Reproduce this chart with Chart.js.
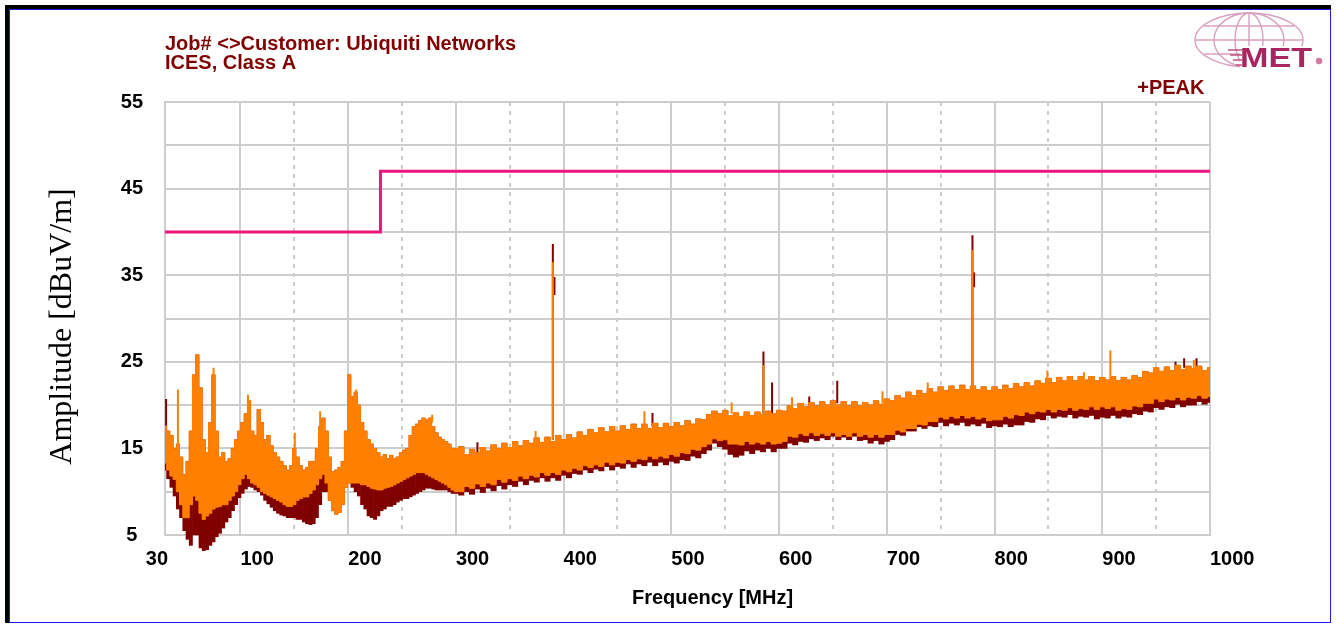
<!DOCTYPE html>
<html>
<head>
<meta charset="utf-8">
<script src="https://cdn.jsdelivr.net/npm/chart.js@4.4.1/dist/chart.umd.min.js"></script>
<style>
  html, body { margin: 0; padding: 0; background: #fff; }
  #wrap { position: relative; width: 1336px; height: 627px; overflow: hidden; }
  #outer { position: absolute; left: 5px; top: 5px; width: 1326px; height: 618px; box-sizing: border-box;
           border-top: 4px solid #000; border-left: 4px solid #000; }
  #inner { position: absolute; left: 9px; top: 9px; width: 1322px; height: 614px; box-sizing: border-box;
           border: 1px solid #1c1cf0; }
  #chartBox { position: absolute; left: 0; top: 0; width: 1336px; height: 627px; }
  #logo { position: absolute; left: 1190px; top: 10px; }
</style>
</head>
<body>
<div id="wrap">
  <div id="outer"></div>
  <div id="inner"></div>
  <div id="chartBox"><canvas id="emiChart"></canvas></div>
  <svg id="logo" width="140" height="64" viewBox="0 0 140 64">
    <g fill="none" stroke="#d9a0bf" stroke-width="1.4">
      <ellipse cx="59" cy="30" rx="54" ry="27"/>
      <ellipse cx="59" cy="30" rx="35" ry="27"/>
      <ellipse cx="59" cy="30" rx="14" ry="27"/>
      <line x1="59" y1="3" x2="59" y2="57"/>
      <line x1="14" y1="16" x2="104" y2="16"/>
      <line x1="5" y1="30" x2="113" y2="30"/>
      <line x1="14" y1="44" x2="104" y2="44"/>
    </g>
    <rect x="50" y="36" width="76" height="22" fill="#fff"/>
    <g stroke="#c0507f" stroke-width="1.5">
      <line x1="38" y1="40" x2="52" y2="40"/>
      <line x1="40" y1="45" x2="52" y2="45"/>
      <line x1="43" y1="50" x2="52" y2="50"/>
      <line x1="46" y1="55" x2="52" y2="55"/>
    </g>
    <text x="50" y="57" font-family="Liberation Sans" font-weight="bold" font-size="28" fill="#a8255f"
          textLength="72" lengthAdjust="spacingAndGlyphs">MET</text>
    <circle cx="129" cy="51" r="3.2" fill="#d27aa3"/>
  </svg>
</div>
<script>
// sampling grid (MHz)
const freqs = [30,33,36,39,42,45,48,51,54,57,60,63,66,69,72,75,78,81,84,87,90,93,96,99,
  102,105,108,111,114,117,120,123,126,129,132,135,138,141,144,147,150,153,156,159,162,165,168,171,174,177,
  180,183,186,189,192,195,198,201,204,207,210,213,216,219,222,225,228,231,234,237,240,243,246,249,252,255,
  258,261,264,267,270,273,276,279,282,285,288,291,294,297,300,
  305,310,315,320,325,330,335,340,345,350,355,360,365,370,375,380,385,390,395,400,
  405,410,415,420,425,430,435,440,445,450,455,460,465,470,475,480,485,490,495,500,
  505,510,515,520,525,530,535,540,545,550,555,560,565,570,575,580,585,590,595,600,
  605,610,615,620,625,630,635,640,645,650,655,660,665,670,675,680,685,690,695,700,
  705,710,715,720,725,730,735,740,745,750,755,760,765,770,775,780,785,790,795,800,
  805,810,815,820,825,830,835,840,845,850,855,860,865,870,875,880,885,890,895,900,
  905,910,915,920,925,930,935,940,945,950,955,960,965,970,975,980,985,990,995,1000];

// orange trace, upper and lower edge of the noise band (dBuV/m)
const orangeHi = [17.6,17.0,16.5,15.0,15.5,14.0,12.0,13.5,17.0,23.5,25.8,22.0,16.0,14.5,18.0,23.5,17.0,14.0,14.5,13.5,13.8,15.0,16.0,17.0,
  18.0,19.0,20.5,17.0,16.5,19.5,18.0,16.0,16.5,15.3,14.5,14.0,13.5,13.0,12.5,13.0,15.0,14.0,13.0,12.5,12.8,13.5,13.5,15.0,17.5,18.5,
  17.0,14.0,12.3,12.5,12.8,13.5,17.0,23.5,21.0,21.5,20.0,18.0,17.0,16.0,15.5,15.0,14.5,14.0,14.3,13.8,14.2,13.8,14.0,14.5,14.8,15.0,
  16.5,17.5,17.8,18.2,18.5,18.3,18.5,17.5,16.8,16.3,16.0,15.8,15.5,15.0,15.0,
  15.2,14.3,14.9,14.5,15.1,14.7,15.4,15.0,15.6,15.1,15.8,15.3,15.9,15.6,16.2,15.7,16.3,15.8,16.5,16.0,
  16.6,16.2,16.9,16.5,17.2,16.8,17.4,16.9,17.5,17.0,17.6,17.2,17.8,17.3,17.8,17.3,17.9,17.4,17.9,17.5,
  18.0,17.6,18.2,17.8,18.4,18.3,18.9,19.3,19.0,19.4,18.8,19.1,18.7,19.2,18.8,19.2,18.9,19.3,19.0,19.4,
  19.3,19.9,19.6,20.2,19.8,20.3,19.9,20.4,20.0,20.5,20.0,20.4,19.9,20.4,19.9,20.3,20.0,20.5,20.1,20.7,
  20.5,21.1,20.8,21.5,21.1,21.7,21.3,21.9,21.5,22.1,21.7,22.2,21.8,22.3,21.8,22.2,21.8,22.1,21.7,22.1,
  21.8,22.3,21.9,22.5,22.1,22.6,22.2,22.8,22.5,23.1,22.6,23.2,22.8,23.3,22.8,23.3,22.9,23.3,22.8,23.2,
  22.9,23.3,22.8,23.2,22.9,23.4,23.2,23.9,23.7,24.3,23.9,24.4,24.0,24.6,24.1,24.5,24.2,24.5,24.0,24.3];
const orangeLo = [13.3,12.5,11.8,11.4,10.0,8.5,7.0,7.0,8.5,9.5,9.0,7.5,6.8,7.2,7.5,8.0,8.2,8.3,8.5,8.5,9.0,9.5,10.0,10.8,
  11.5,12.0,11.5,11.0,10.8,10.5,10.0,9.8,9.6,9.4,9.2,9.0,8.8,8.5,8.3,8.3,8.5,9.0,9.2,9.4,9.4,9.8,10.2,10.8,11.5,12.0,
  11.0,9.0,7.8,7.4,7.6,8.5,10.5,11.0,11.0,11.0,11.0,10.8,10.8,10.6,10.4,10.3,10.2,10.2,10.4,10.5,10.6,10.8,11.0,11.2,11.4,11.6,
  11.8,12.0,12.2,12.2,12.2,12.0,11.8,11.6,11.4,11.2,11.0,10.8,10.5,10.2,10.0,
  10.0,10.6,10.4,10.9,10.6,11.0,10.8,11.4,11.1,11.5,11.3,11.8,11.5,11.9,11.7,12.2,11.9,12.2,12.0,12.5,
  12.3,12.7,12.5,13.0,12.8,13.1,12.9,13.4,13.1,13.4,13.3,13.7,13.5,13.8,13.7,14.1,13.8,14.1,13.9,14.3,
  14.1,14.5,14.4,14.9,14.8,15.2,15.5,16.1,15.9,16.0,15.5,15.5,15.4,15.8,15.5,15.7,15.5,15.8,15.5,15.6,
  15.8,16.4,16.3,16.7,16.5,16.8,16.5,16.7,16.5,16.8,16.4,16.6,16.4,16.8,16.4,16.6,16.3,16.6,16.3,16.6,
  16.6,17.1,16.9,17.3,17.3,17.8,17.7,18.1,18.1,18.6,18.4,18.7,18.5,18.8,18.5,18.7,18.4,18.6,18.2,18.3,
  18.3,18.7,18.5,18.9,18.8,19.2,19.0,19.3,19.2,19.5,19.2,19.5,19.4,19.7,19.4,19.6,19.5,19.8,19.5,19.8,
  19.6,19.8,19.4,19.6,19.5,19.9,19.8,20.2,20.2,20.7,20.4,20.7,20.6,20.9,20.6,20.9,20.8,21.1,20.8,21.0];

// dark red trace, lower edge (its upper part sits under the orange band)
const redLo = [12.5,11.5,10.5,9.5,8.0,7.0,5.5,4.5,3.8,5.0,5.0,3.5,3.2,3.3,3.8,4.2,4.8,5.2,5.8,6.5,7.0,7.8,8.5,9.3,
  9.8,10.3,10.6,10.5,10.2,10.0,9.6,9.0,8.6,8.2,7.8,7.5,7.3,7.2,7.0,7.0,7.0,6.8,6.8,6.5,6.3,6.2,6.3,7.0,8.5,10.0,
  10.0,9.0,7.8,7.4,7.6,8.5,10.5,11.0,10.5,10.0,9.5,8.5,8.0,7.2,7.0,6.8,7.2,7.8,8.0,8.3,8.3,8.5,8.8,9.0,9.2,9.2,
  9.4,9.6,9.8,10.0,10.2,10.4,10.4,10.3,10.2,10.2,10.2,10.2,10.0,9.8,9.8,
  9.6,10.0,9.7,10.3,9.9,10.4,10.1,10.7,10.3,10.8,10.6,11.2,10.8,11.3,11.1,11.6,11.2,11.6,11.3,11.9,
  11.6,12.1,12.0,12.5,12.2,12.6,12.4,12.9,12.5,12.9,12.7,13.2,12.8,13.2,13.0,13.4,13.0,13.4,13.1,13.5,
  13.3,13.7,13.6,14.1,13.9,14.4,14.8,15.6,15.2,14.9,14.3,14.0,14.2,14.7,14.4,14.8,14.6,15.0,14.6,15.0,
  15.0,15.6,15.4,15.8,15.7,16.1,15.9,16.2,16.0,16.4,16.0,16.3,16.0,16.4,15.9,16.0,15.6,15.9,15.5,15.8,
  16.0,16.6,16.5,17.0,17.0,17.5,17.3,17.6,17.5,18.0,17.6,17.9,17.7,18.0,17.6,17.8,17.6,17.9,17.4,17.6,
  17.5,17.8,17.5,17.7,17.7,18.1,18.0,18.4,18.3,18.8,18.5,18.7,18.6,18.9,18.5,18.7,18.6,18.8,18.4,18.6,
  18.5,18.8,18.5,18.7,18.6,19.0,18.9,19.3,19.2,19.7,19.5,19.8,19.7,20.1,19.8,20.0,20.0,20.4,20.1,20.3];

// narrow peaks: frequency, foot and top
const orangeSpikeFreqs = [42,75,107,150.5,174,207.5,278,374,390,475,556,585.5,612,696,738,779.5,849,883,907.5,985];
const orangeSpikeBase  = [14,17,18,13,16,19,18,15.8,16,17.5,19,19,19.5,20.2,21.5,22,22.8,23,23,24.2];
const orangeSpikeTop   = [21.8,24.3,21.2,16.8,19.3,21.8,18.9,17,36.5,19.3,20.3,24.6,20.9,21.6,22.6,37.9,24,23.8,26.3,25.2];
const redSpikeFreqs = [31,320,390,391.5,482.5,585.5,593.5,628,654,779.5,781,968,976,987.5];
const redSpikeBase  = [15,14.5,16,32.7,17.5,19,19,19.5,20.2,22,33.6,24,24.3,24.2];
const redSpikeTop   = [20.7,15.7,38.6,34.8,19.1,26.2,22.6,21,22.8,39.6,35.3,25,25.4,25.4];

// limit line
const limitFreqs = [30, 230, 230, 1000];
const limitLevels = [40, 40, 47, 47];

const ORANGE = "#ff8000";
const DARKRED = "#800000";
const GRID = "#cdcdcd";
const FONT = "Liberation Sans";

const pts = (xs, ys) => xs.map((x, i) => ({ x: x, y: ys[i] }));
const spikePts = (fs, lo, hi) => fs.flatMap((f, i) => [{ x: f, y: lo[i] }, { x: f, y: hi[i] }, { x: f, y: null }]);
// dark red band runs from its own floor up under the orange band
const redBand = freqs.map((f, i) => ({ x: f, y: [redLo[i], orangeHi[i]] }));

// first x label sits left of the frame corner
const firstLabel = {
    id: "firstLabel",
    afterDraw(chart) {
        const s = chart.scales.x;
        const ctx = chart.ctx;
        ctx.save();
        ctx.font = "bold 20px '" + FONT + "'";
        ctx.fillStyle = "#000";
        ctx.textAlign = "right";
        ctx.textBaseline = "middle";
        ctx.fillText("30", s.getPixelForValue(30) + 3, s.top + 24);
        ctx.restore();
    }
};

Chart.defaults.font.family = FONT;

const ctx = document.getElementById("emiChart").getContext("2d");
new Chart(ctx, {
    type: "line",
    data: {
        datasets: [
            { data: pts(limitFreqs, limitLevels), borderColor: "#f0147f", borderWidth: 3, pointRadius: 0, fill: false },
            { data: spikePts(orangeSpikeFreqs, orangeSpikeBase, orangeSpikeTop), borderColor: ORANGE, borderWidth: 2, pointRadius: 0, spanGaps: false, fill: false },
            { data: pts(freqs, orangeHi), borderColor: ORANGE, backgroundColor: ORANGE, borderWidth: 1, pointRadius: 0, stepped: "middle", fill: 3 },
            { data: pts(freqs, orangeLo), borderColor: ORANGE, borderWidth: 1, pointRadius: 0, stepped: "middle", fill: false },
            { data: spikePts(redSpikeFreqs, redSpikeBase, redSpikeTop), borderColor: DARKRED, borderWidth: 2, pointRadius: 0, spanGaps: false, fill: false },
            {
                type: "bar", data: redBand, backgroundColor: DARKRED, borderWidth: 0,
                barThickness: "flex", barPercentage: 1, categoryPercentage: 1,
                clip: { left: 0, top: 0, right: 0, bottom: 25 }
            }
        ]
    },
    options: {
        responsive: true,
        maintainAspectRatio: false,
        animation: false,
        layout: { padding: { left: 40, right: 126, top: 35, bottom: 0 } },
        plugins: {
            legend: { display: false },
            tooltip: { enabled: false },
            title: {
                display: true,
                text: ["Job# <>Customer: Ubiquiti Networks", "ICES, Class A"],
                align: "start",
                fullSize: false,
                color: DARKRED,
                font: { size: 20, weight: "bold", lineHeight: 0.95 },
                padding: { top: 0, bottom: 5 }
            },
            subtitle: {
                display: true,
                text: "+PEAK ",
                align: "end",
                fullSize: false,
                color: DARKRED,
                font: { size: 20, weight: "bold", lineHeight: 1.0 },
                padding: { top: 0, bottom: 4 }
            }
        },
        scales: {
            x: {
                type: "linear",
                min: 30,
                max: 1000,
                offset: false,
                afterFit: (s) => { s.height = 92; },
                ticks: {
                    stepSize: 50,
                    autoSkip: false,
                    maxRotation: 0,
                    align: "start",
                    padding: 12,
                    color: "#000",
                    font: { size: 20, weight: "bold" },
                    callback: (v) => (v % 100 === 0 ? String(v) : "")
                },
                grid: { color: GRID, lineWidth: 2, drawTicks: false, offset: false },
                border: {
                    display: true, color: GRID, width: 2,
                    dash: (c) => (c.tick && c.tick.value !== 30 && c.tick.value % 100 !== 0 ? [4, 5] : [])
                },
                title: {
                    display: true,
                    text: "         Frequency [MHz]",
                    color: "#000",
                    font: { size: 20, weight: "bold" },
                    padding: { top: 0, bottom: 17 }
                }
            },
            y: {
                min: 5,
                max: 55,
                afterFit: (s) => { s.width = 125; },
                ticks: {
                    stepSize: 5,
                    padding: 22,
                    crossAlign: "center",
                    color: "#000",
                    font: { size: 20, weight: "bold" },
                    callback: (v) => ((v - 5) % 10 === 0 ? String(v) : "")
                },
                grid: { color: GRID, lineWidth: 2, drawTicks: false },
                border: { display: true, color: GRID, width: 2 },
                title: {
                    display: true,
                    text: "Amplitude [dBuV/m]  ",
                    color: "#000",
                    font: { family: "Liberation Serif", size: 32, weight: "normal" },
                    padding: { top: 3, bottom: 0 }
                }
            }
        }
    },
    plugins: [firstLabel]
});
</script>
</body>
</html>
